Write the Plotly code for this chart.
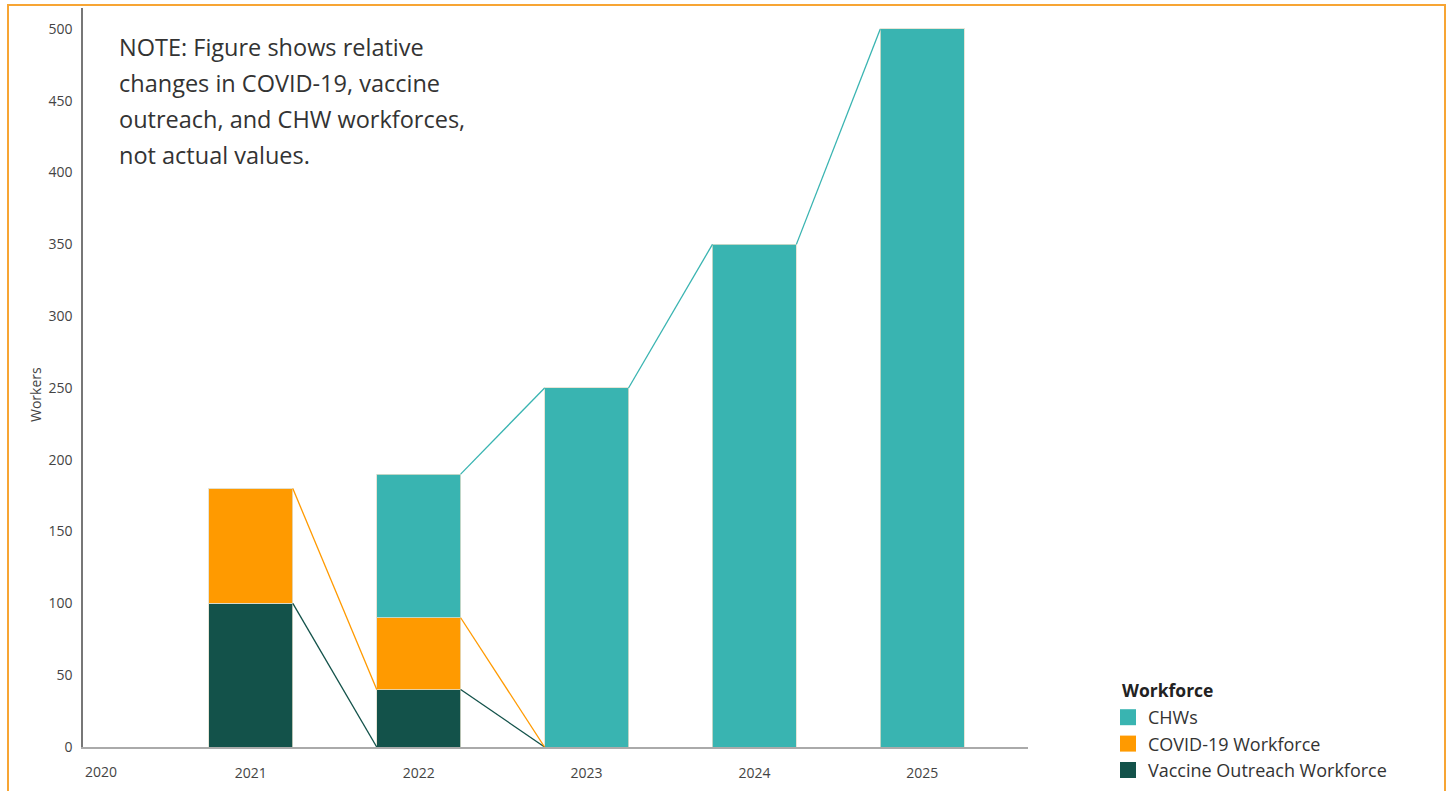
import plotly.graph_objects as go

# ---- data ----
years = [2021, 2022, 2023, 2024, 2025]
series_names = ["Vaccine Outreach Workforce", "COVID-19 Workforce", "CHWs"]
vaccine = [100, 40, 0, 0, 0]
covid = [80, 50, 0, 0, 0]
chws = [0, 100, 250, 350, 500]

# connector lines: (from_year, start_value, end_value) per series
vaccine_links = [(2021, 100, 0), (2022, 40, 0)]
covid_links = [(2021, 180, 40), (2022, 90, 0)]
chws_links = [(2022, 190, 250), (2023, 250, 350), (2024, 350, 500)]

x_tick_labels = ["2021", "2022", "2023", "2024", "2025"]
y_tick_vals = [0, 50, 100, 150, 200, 250, 300, 350, 400, 450, 500]

note_lines = ["NOTE: Figure shows relative",
              "changes in COVID-19, vaccine",
              "outreach, and CHW workforces,",
              "not actual values."]

# ---- styles ----
COL_VAC = "#13524A"
COL_COV = "#FF9A00"
COL_CHW = "#39B4B1"
FONT = "Open Sans"
BAR_W = 0.5

fig = go.Figure()

for name, vals, col in [(series_names[0], vaccine, COL_VAC),
                        (series_names[1], covid, COL_COV),
                        (series_names[2], chws, COL_CHW)]:
    fig.add_trace(go.Bar(
        x=years, y=vals, width=BAR_W, name=name,
        marker=dict(color=col, line=dict(color="rgba(225,222,205,0.8)", width=1)),
        showlegend=False, hoverinfo="skip"))

def link_trace(links, col):
    xs, ys = [], []
    for (yr, a, b) in links:
        xs += [yr + BAR_W / 2, yr + 1 - BAR_W / 2, None]
        ys += [a, b, None]
    return go.Scatter(x=xs, y=ys, mode="lines", line=dict(color=col, width=1.3),
                      showlegend=False, hoverinfo="skip")

fig.add_trace(link_trace(vaccine_links, COL_VAC))
fig.add_trace(link_trace(covid_links, COL_COV))
fig.add_trace(link_trace(chws_links, COL_CHW))

# legend-only entries (square swatches)
for name, col in [("CHWs", COL_CHW), ("COVID-19 Workforce", COL_COV),
                  ("Vaccine Outreach Workforce", COL_VAC)]:
    fig.add_trace(go.Scatter(x=[None], y=[None], mode="markers", name=name,
                             marker=dict(symbol="square", size=17, color=col)))

L, R, T, B = 83, 419, 8, 44
W, H = 1447, 791
pw, ph = W - L - R, H - T - B

def px_x(x):
    return (x - L) / pw

def px_y(y):
    return 1 - (y - T) / ph

annotations = []
for i, line in enumerate(note_lines):
    annotations.append(dict(
        text=line, xref="paper", yref="paper", x=px_x(117), y=px_y(47 + 36 * i),
        xanchor="left", yanchor="middle", showarrow=False,
        font=dict(family=FONT, size=23.5, color="#333333")))
annotations.append(dict(
    text="2020", xref="x", yref="paper", x=2020, y=px_y(771),
    xanchor="left", yanchor="middle", showarrow=False,
    font=dict(family=FONT, size=14, color="#444444")))
annotations.append(dict(
    text="Workers", xref="paper", yref="paper", x=px_x(35), y=px_y(395),
    xanchor="center", yanchor="middle", textangle=-90, showarrow=False,
    font=dict(family=FONT, size=14, color="#444444")))
annotations.append(dict(
    text="<b>Workforce</b>", xref="paper", yref="paper", x=px_x(1120), y=px_y(690),
    xanchor="left", yanchor="middle", showarrow=False,
    font=dict(family=FONT, size=17.5, color="#222222")))

fig.update_layout(
    width=W, height=H,
    margin=dict(l=L, r=R, t=T, b=B, autoexpand=False),
    paper_bgcolor="white", plot_bgcolor="white",
    barmode="stack",
    font=dict(family=FONT, size=14, color="#444444"),
    xaxis=dict(range=[2020, 2025.63], tickvals=years, ticktext=x_tick_labels,
               showgrid=False, zeroline=False, showline=True,
               linecolor="#AAAAAA", linewidth=2, ticks="",
               ticklabelstandoff=12, tickfont=dict(size=14, color="#444444")),
    yaxis=dict(range=[0, 514.6], tickvals=y_tick_vals, showgrid=False,
               zeroline=False, showline=True, linecolor="#777777", linewidth=1.5,
               ticks="", ticklabelstandoff=6,
               tickfont=dict(size=14, color="#444444")),
    legend=dict(x=px_x(1108), y=px_y(789), xanchor="left", yanchor="bottom",
                traceorder="normal",
                font=dict(family=FONT, size=18, color="#333333"), tracegroupgap=0,
                itemwidth=30, bgcolor="rgba(0,0,0,0)"),
    annotations=annotations,
    shapes=[dict(type="rect", xref="paper", yref="paper",
                 x0=px_x(8), x1=px_x(1445), y0=px_y(800), y1=px_y(5),
                 line=dict(color="#F7A534", width=2), fillcolor="rgba(0,0,0,0)",
                 layer="below")],
)

fig.write_html("out.html")
